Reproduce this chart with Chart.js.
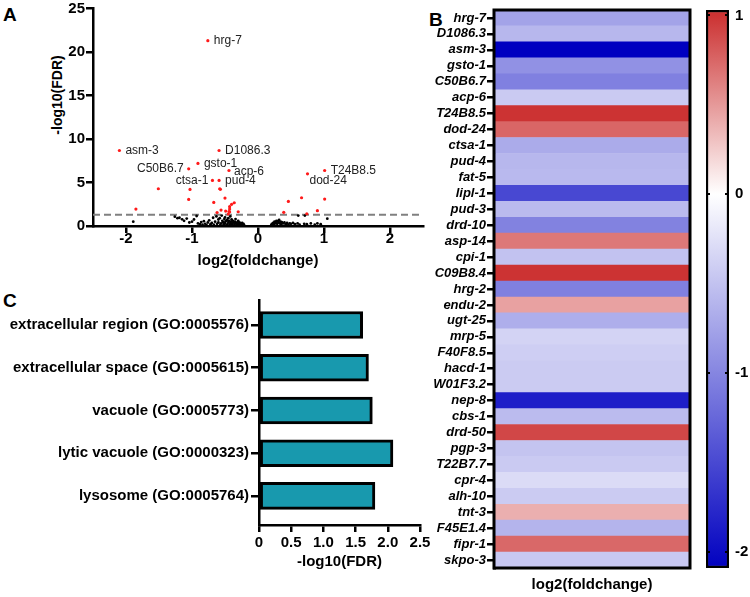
<!DOCTYPE html>
<html>
<head>
<meta charset="utf-8">
<script src="https://cdn.jsdelivr.net/npm/chart.js@4"></script>
<style>
  body { margin: 0; width: 750px; height: 597px; background: #fff; position: relative; overflow: hidden;
         font-family: Arial, "Liberation Sans", sans-serif; }
  canvas, .txt { position: absolute; }
  .letter { position: absolute; font-weight: bold; font-size: 19px; line-height: 19px; }
</style>
</head>
<body>
<div class="letter" style="left:3px;top:5px">A</div>
<div class="letter" style="left:429px;top:10px">B</div>
<div class="letter" style="left:3px;top:291px">C</div>
<div class="txt" style="left:57px;top:95px;transform:translate(-50%,-50%) rotate(-90deg);font-weight:bold;font-size:14px;white-space:nowrap">-log10(FDR)</div>

<canvas id="volcano" width="445" height="285" style="left:0;top:0"></canvas>
<canvas id="heatmap" width="285" height="597" style="left:415px;top:0"></canvas>
<canvas id="colorbar" width="50" height="597" style="left:700px;top:0"></canvas>
<canvas id="goBars" width="440" height="307" style="left:0;top:290px"></canvas>

<script>
// significant genes (red dots, heatmap rows), sorted by FDR
const sigGenes = ["hrg-7", "D1086.3", "asm-3", "gsto-1", "C50B6.7", "acp-6", "T24B8.5", "dod-24",
  "ctsa-1", "pud-4", "fat-5", "lipl-1", "pud-3", "drd-10", "asp-14", "cpi-1", "C09B8.4", "hrg-2",
  "endu-2", "ugt-25", "mrp-5", "F40F8.5", "hacd-1", "W01F3.2", "nep-8", "cbs-1", "drd-50", "pgp-3",
  "T22B7.7", "cpr-4", "alh-10", "tnt-3", "F45E1.4", "fipr-1", "skpo-3"];
const sigLog2FC = [-0.76, -0.59, -2.1, -0.91, -1.05, -0.44, 1.01, 0.75, -0.69, -0.59, -0.58, -1.51,
  -0.57, -1.03, 0.66, -0.5, 1.01, -1.05, 0.46, -0.67, -0.36, -0.4, -0.43, -0.43, -1.85, -0.56, 0.9,
  -0.49, -0.44, -0.3, -0.43, 0.39, -0.62, 0.74, -0.45];
const sigNegLogFDR = [21.3, 8.68, 8.68, 7.19, 6.57, 6.38, 6.38, 6.0, 5.24, 5.24, 4.28, 4.28, 4.22,
  4.2, 3.25, 3.21, 3.1, 3.06, 2.83, 2.71, 2.67, 2.49, 2.22, 1.95, 1.95, 1.83, 1.76, 1.72, 1.66, 1.64,
  1.62, 1.57, 1.55, 1.41, 1.38];

// genes named on the volcano plot
const labelled = ["hrg-7", "asm-3", "D1086.3", "gsto-1", "C50B6.7", "acp-6", "ctsa-1", "pud-4",
  "T24B8.5", "dod-24"];

// not significant (black dots)
const nsLog2FC = [-1.89, -1.26, -1.22, -1.19, -1.15, -1.12, -1.08, -1.04, -1.0, -0.97, -0.93, -0.91,
  -0.88, -0.86, -0.84, -0.82, -0.8, -0.78, -0.76, -0.74, -0.72, -0.7, -0.68, -0.67, -0.65, -0.63,
  -0.62, -0.6, -0.6, -0.58, -0.57, -0.56, -0.55, -0.54, -0.53, -0.52, -0.51, -0.5, -0.5, -0.49,
  -0.48, -0.47, -0.46, -0.45, -0.45, -0.44, -0.43, -0.42, -0.42, -0.41, -0.4, -0.4, -0.39, -0.38,
  -0.37, -0.36, -0.35, -0.35, -0.34, -0.33, -0.32, -0.31, -0.3, -0.3, -0.29, -0.28, -0.27, -0.26,
  -0.25, -0.24, -0.23, -0.22, -0.21, 0.2, 0.21, 0.22, 0.23, 0.24, 0.25, 0.26, 0.27, 0.28, 0.29, 0.3,
  0.31, 0.32, 0.33, 0.34, 0.35, 0.36, 0.38, 0.4, 0.42, 0.44, 0.46, 0.48, 0.5, 0.53, 0.56, 0.6, 0.61,
  0.63, 0.7, 0.71, 0.74, 0.8, 0.86, 0.9, 0.95, 1.05];
const nsNegLogFDR = [0.5, 1.07, 0.9, 0.95, 0.77, 0.6, 0.85, 0.4, 0.5, 0.75, 1.15, 0.3, 0.2, 0.45,
  0.15, 0.55, 0.25, 0.1, 0.4, 0.65, 0.2, 0.35, 0.95, 0.15, 0.5, 1.1, 0.25, 0.75, 0.4, 0.9, 0.15, 0.3,
  1.2, 0.6, 0.45, 0.2, 0.8, 1.0, 0.35, 0.55, 0.1, 0.7, 0.25, 0.9, 0.45, 0.6, 0.15, 0.35, 1.1, 0.5,
  0.75, 0.2, 0.3, 0.6, 0.4, 0.1, 0.5, 0.25, 0.8, 0.35, 0.15, 0.45, 0.3, 0.6, 0.2, 0.4, 0.1, 0.3, 0.2,
  0.35, 0.15, 0.25, 0.1, 0.1, 0.25, 0.15, 0.35, 0.2, 0.5, 0.3, 0.45, 0.6, 0.25, 0.55, 0.4, 0.7, 0.3,
  0.5, 0.2, 0.45, 0.3, 0.4, 0.2, 0.35, 0.15, 0.3, 0.25, 0.35, 0.2, 0.3, 1.2, 0.15, 0.25, 1.2, 0.2,
  0.3, 0.15, 0.3, 0.2, 0.84];

// FDR = 0.05 cut-off
const fdrCutoff = 1.3;
const volcanoXTicks = [-2, -1, 0, 1, 2];

// colour bar range
const cbarMin = -2.09;
const cbarMax = 1.03;
const cbarTicks = [-2, -1, 0, 1];

// GO enrichment
const goTerms = ["extracellular region (GO:0005576)", "extracellular space (GO:0005615)",
  "vacuole (GO:0005773)", "lytic vacuole (GO:0000323)", "lysosome (GO:0005764)"];
const goNegLogFDR = [1.61, 1.7, 1.76, 2.08, 1.8];

Chart.defaults.font.family = "Arial, 'Liberation Sans', sans-serif";
Chart.defaults.color = "#000";
Chart.defaults.animation = false;
Chart.defaults.responsive = false;
Chart.defaults.plugins.legend.display = false;
Chart.defaults.plugins.tooltip.enabled = false;

const bold15 = { size: 15, weight: "bold" };

// tick marks only, no grid lines
function tickMarks(len, w) {
  return { display: true, drawOnChartArea: false, drawTicks: true, tickLength: len,
    tickWidth: w, tickColor: "#000", color: "#000", lineWidth: w, offset: false };
}
const fixedTicks = (values) => (scale) => {
  scale.ticks = values.map((v) => ({ value: v }));
};

// white -> blue for down, white -> red for up
const blueEnd = [0, 0, 192];
const redEnd = [204, 51, 51];
function fcColor(v) {
  const end = v < 0 ? blueEnd : redEnd;
  const t = Math.min(1, v < 0 ? -v / 2.1 : v / 1.0);
  const c = end.map((e) => Math.round(255 + (e - 255) * t));
  return "rgb(" + c.join(",") + ")";
}

// where each gene name sits relative to its dot
const labelPlace = {
  "hrg-7": [6, 0, "left"], "asm-3": [6, 0, "left"], "D1086.3": [6, 0, "left"],
  "gsto-1": [6, 0, "left"], "C50B6.7": [-5, 0, "right"], "acp-6": [5, 1, "left"],
  "ctsa-1": [-4, 0, "right"], "pud-4": [6, 0, "left"], "T24B8.5": [6, 0, "left"],
  "dod-24": [2, 7, "left"],
};

const geneLabels = {
  id: "geneLabels",
  afterDatasetsDraw(chart) {
    const { ctx, scales: { x, y } } = chart;
    ctx.save();
    ctx.font = "12px Arial, 'Liberation Sans', sans-serif";
    ctx.fillStyle = "#222";
    ctx.textBaseline = "middle";
    labelled.forEach((g) => {
      const i = sigGenes.indexOf(g);
      const [dx, dy, align] = labelPlace[g];
      ctx.textAlign = align;
      ctx.fillText(g, x.getPixelForValue(sigLog2FC[i]) + dx, y.getPixelForValue(sigNegLogFDR[i]) + dy);
    });
    ctx.restore();
  },
};

// A: volcano
new Chart("volcano", {
  type: "scatter",
  data: {
    datasets: [
      {
        data: sigGenes.map((g, i) => ({ x: sigLog2FC[i], y: sigNegLogFDR[i] })),
        backgroundColor: "#ff1a1a", pointRadius: 1.6, borderWidth: 0,
      },
      {
        data: nsLog2FC.map((v, i) => ({ x: v, y: nsNegLogFDR[i] })),
        backgroundColor: "#000", pointRadius: 1.4, borderWidth: 0,
      },
      {
        type: "line",
        data: [{ x: -2.5, y: fdrCutoff }, { x: 2.5, y: fdrCutoff }],
        borderColor: "#808080", borderWidth: 2, borderDash: [7, 4], pointRadius: 0,
      },
    ],
  },
  options: {
    layout: { padding: { top: 0, right: 22, left: 0, bottom: 0 } },
    scales: {
      x: {
        type: "linear", min: -2.5, max: 2.5,
        ticks: { font: { size: 15, weight: "bold", lineHeight: 1 }, padding: -2 },
        afterBuildTicks: fixedTicks(volcanoXTicks),
        afterFit: (s) => { s.height = 59; },
        grid: tickMarks(7, 2.5),
        border: { color: "#000", width: 2.5 },
        title: { display: true, text: "log2(foldchange)", font: bold15, padding: { top: 0, bottom: 15 } },
      },
      y: {
        min: 0, max: 25,
        ticks: { stepSize: 5, font: { size: 15, weight: "bold", lineHeight: 1 }, padding: 1 },
        afterFit: (s) => { s.width = 93; },
        grid: tickMarks(7, 2.5),
        border: { color: "#000", width: 2.5 },
      },
    },
  },
  plugins: [geneLabels],
});

// B: heatmap of log2 fold change
const frame = {
  id: "frame",
  afterDatasetsDraw(chart) {
    const { ctx, chartArea: a } = chart;
    ctx.save();
    ctx.strokeStyle = "#000";
    ctx.lineWidth = 3;
    ctx.strokeRect(a.left, a.top, a.right - a.left, a.bottom - a.top);
    ctx.restore();
  },
};

new Chart("heatmap", {
  type: "bar",
  data: {
    labels: sigGenes,
    datasets: [{
      data: sigGenes.map(() => 1),
      backgroundColor: sigLog2FC.map(fcColor),
      borderWidth: 0,
      barPercentage: 1,
      categoryPercentage: 1,
    }],
  },
  options: {
    indexAxis: "y",
    layout: { padding: { top: 10, right: 10, left: 0, bottom: 0 } },
    scales: {
      x: {
        min: 0, max: 1,
        ticks: { display: false },
        grid: { display: false },
        border: { display: false },
        afterFit: (s) => { s.height = 29; },
        title: { display: true, text: "log2(foldchange)", font: bold15, padding: { top: 0, bottom: 3 } },
      },
      y: {
        ticks: { font: { size: 13, weight: "bold", style: "italic" }, padding: 1, autoSkip: false },
        afterFit: (s) => { s.width = 79; },
        grid: tickMarks(7, 2.5),
        border: { color: "#000", width: 3 },
      },
    },
  },
  plugins: [frame],
});

// colour bar
new Chart("colorbar", {
  type: "bar",
  data: {
    labels: [""],
    datasets: [{
      data: [[cbarMin, cbarMax]],
      backgroundColor: (c) => {
        const { ctx, chartArea } = c.chart;
        if (!chartArea) return "#fff";
        const g = ctx.createLinearGradient(0, chartArea.bottom, 0, chartArea.top);
        const pos = (v) => (v - cbarMin) / (cbarMax - cbarMin);
        [cbarMin, 0, 1, cbarMax].forEach((v) => g.addColorStop(pos(v), fcColor(v)));
        return g;
      },
      borderColor: "#000",
      borderWidth: 2.5,
      borderSkipped: false,
      barPercentage: 1,
      categoryPercentage: 1,
    }],
  },
  options: {
    layout: { padding: { top: 10, right: 0, left: 6, bottom: 29 } },
    scales: {
      x: { display: false },
      y: {
        position: "right",
        min: cbarMin, max: cbarMax,
        ticks: { font: bold15, padding: 0 },
        afterBuildTicks: fixedTicks(cbarTicks),
        afterFit: (s) => { s.width = 21; },
        grid: { z: 1, drawOnChartArea: true, drawTicks: true, tickLength: 6, tickColor: "rgba(0,0,0,0)",
          color: "#000", lineWidth: 2 },
        border: { display: false, dash: [4, 15] },
      },
    },
  },
});

// C: GO enrichment
new Chart("goBars", {
  type: "bar",
  data: {
    datasets: [{
      data: goTerms.map((t, i) => ({ x: goNegLogFDR[i], y: i + 1 })),
      backgroundColor: "#1899ae",
      borderColor: "#000",
      borderWidth: 3,
      borderSkipped: false,
      barThickness: 27,
    }],
  },
  options: {
    indexAxis: "y",
    layout: { padding: { top: 10, right: 20, left: 0, bottom: 0 } },
    scales: {
      x: {
        type: "linear", min: 0, max: 2.5,
        ticks: { stepSize: 0.5, font: bold15, padding: 2 },
        afterFit: (s) => { s.height = 72; },
        grid: tickMarks(7, 2.5),
        border: { color: "#000", width: 2.5 },
        title: { display: true, text: "-log10(FDR)", font: bold15, padding: { top: 0, bottom: 26 } },
      },
      y: {
        type: "linear", reverse: true, min: 0.415, max: 5.68, offset: false,
        ticks: { stepSize: 1, includeBounds: false, font: { size: 15, weight: "bold", lineHeight: 1 },
          padding: 2, callback: (v) => goTerms[v - 1] },
        afterFit: (s) => { s.width = 259; },
        grid: tickMarks(8, 2.5),
        border: { color: "#000", width: 2.5 },
      },
    },
  },
});
</script>
</body>
</html>
